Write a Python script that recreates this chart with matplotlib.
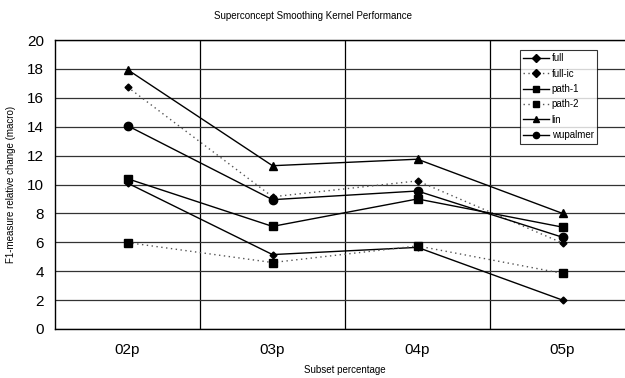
import matplotlib
matplotlib.use("Agg")
import matplotlib.pyplot as plt
from matplotlib.ticker import FixedLocator

plt.rcParams['font.family'] = ['Liberation Sans', 'DejaVu Sans']

categories = ["02p", "03p", "04p", "05p"]
full = [10.1, 5.15, 5.65, 2.0]
full_ic = [16.75, 9.15, 10.25, 5.95]
path_1 = [10.4, 7.1, 9.0, 7.05]
path_2 = [5.98, 4.6, 5.75, 3.85]
lin = [17.95, 11.3, 11.75, 8.0]
wupalmer = [14.07, 8.95, 9.55, 6.35]
yticks = [0, 2, 4, 6, 8, 10, 12, 14, 16, 18, 20]

fig = plt.figure(figsize=(6.25, 3.78), dpi=100)
ax = fig.add_axes([55/625, 1-329/378, 580/625, (329-40)/378])

x = list(range(len(categories)))
series = [
    ("full", full, "-", "D", 3.5),
    ("full-ic", full_ic, (0, (1, 2.5)), "D", 3.5),
    ("path-1", path_1, "-", "s", 5.5),
    ("path-2", path_2, (0, (1, 2.5)), "s", 5.5),
    ("lin", lin, "-", "^", 6),
    ("wupalmer", wupalmer, "-", "o", 6),
]
for name, vals, ls, mk, ms in series:
    lc = "black" if ls == "-" else "#555555"
    ax.plot(x, vals, linestyle=ls, color=lc, linewidth=1.0,
            marker=mk, markersize=ms, markerfacecolor="black",
            markeredgecolor="black", label=name, zorder=3)

ax.set_xlim(-0.5, 3.5)
ax.set_ylim(0, 20)
ax.set_yticks(yticks)
ax.set_xticks(x)
ax.set_xticklabels(categories)
ax.xaxis.set_minor_locator(FixedLocator([0.5, 1.5, 2.5]))
ax.grid(True, axis='y', which='major', color='#333333', linewidth=0.9)
ax.grid(True, axis='x', which='minor', color='black', linewidth=0.9)
ax.tick_params(axis='both', which='both', length=0)
ax.tick_params(axis='y', labelsize=11, pad=8)
ax.tick_params(axis='x', labelsize=11, pad=10)
for s in ax.spines.values():
    s.set_color('black')
    s.set_linewidth(1.0)

ax.set_xlabel("Subset percentage", fontsize=7, labelpad=6)
ax.set_ylabel("F1-measure relative change (macro)", fontsize=7, labelpad=8)
fig.text(0.5, 1-16/378, "Superconcept Smoothing Kernel Performance",
         ha='center', va='center', fontsize=7)

leg = ax.legend(loc='upper left', bbox_to_anchor=((520-55)/580, 1-(50-40)/289),
                fontsize=7, frameon=True, fancybox=False, edgecolor='black',
                handlelength=2.6, handletextpad=0.3, labelspacing=0.55,
                borderpad=0.35, borderaxespad=0)
leg.get_frame().set_linewidth(0.8)
for h in leg.legend_handles:
    h.set_markersize(4.5)

fig.savefig("out.png", dpi=100)
